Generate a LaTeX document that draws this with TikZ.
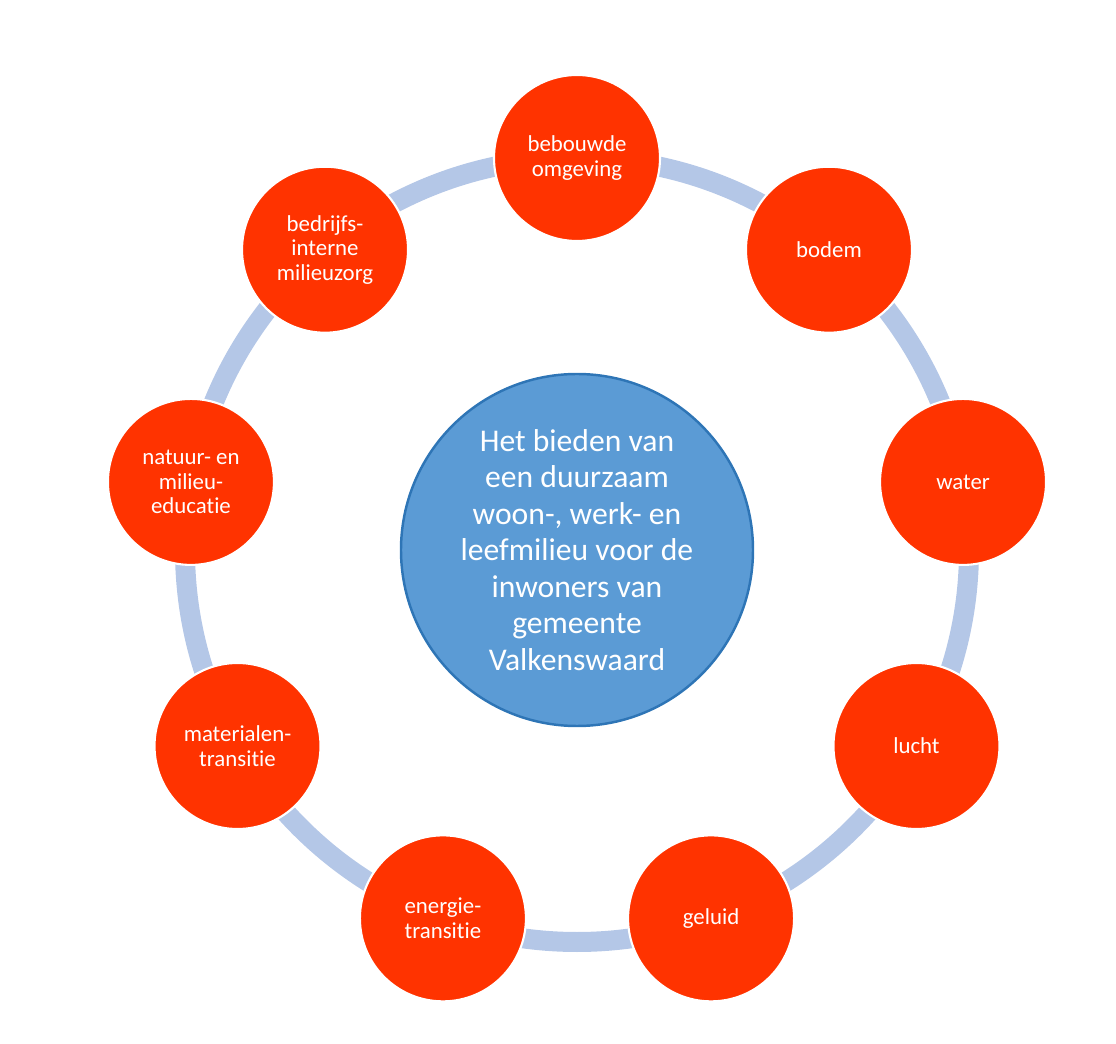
\documentclass[tikz,border=0pt]{standalone}
\usepackage{fontspec}
\setmainfont{Carlito}[Ligatures=NoCommon]
\definecolor{rood}{HTML}{FF3300}
\definecolor{ringblauw}{HTML}{B4C7E7}
\definecolor{midblauw}{HTML}{5B9BD5}
\definecolor{randblauw}{HTML}{2E75B6}
\begin{document}
\begin{tikzpicture}[thema/.style = {fill=rood,circle,draw=white,line width=1.2pt,minimum size=3.32cm,inner sep=0pt,align=center,text=white,font=\fontsize{13}{14}\selectfont},kern/.style = {fill=midblauw,circle,draw=randblauw,line width=1.4pt,minimum size=7.04cm,inner sep=0pt,align=center,text=white,font=\fontsize{18}{20.8}\selectfont},ring/.style = {draw=ringblauw,line width=0.4cm},]
		\useasboundingbox (-11.54,-9.88) rectangle (10.78,11.0);
		\draw[ring] (0,0) circle (7.84);
		\node[kern] (0) at (0,0) {Het bieden van\\een duurzaam\\woon-, werk- en\\leefmilieu voor de\\inwoners van\\gemeente\\Valkenswaard};
		\node[thema] (1) at (90:7.84) {bebouwde\\omgeving};
		\node[thema] (2) at (50:7.84) {bodem};
		\node[thema] (3) at (10:7.84) {water};
		\node[thema] (4) at (-30:7.84) {lucht};
		\node[thema] (5) at (-70:7.84) {geluid};
		\node[thema] (6) at (-110:7.84) {energie-\\transitie};
		\node[thema] (7) at (-150:7.84) {materialen-\\transitie};
		\node[thema] (8) at (170:7.84) {natuur- en\\milieu-\\educatie};
		\node[thema] (9) at (130:7.84) {bedrijfs-\\interne\\milieuzorg};
	\end{tikzpicture}
\end{document}
